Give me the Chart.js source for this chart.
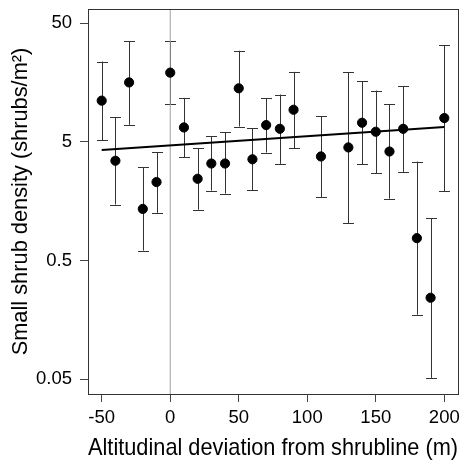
<!DOCTYPE html>
<html>
<head>
<meta charset="utf-8">
<script src="https://cdn.jsdelivr.net/npm/chart.js@4"></script>
<style>
  html, body { margin: 0; padding: 0; background: #fff; }
  #wrap { width: 467px; height: 461px; }
</style>
</head>
<body>
<div id="wrap"><canvas id="c" width="467" height="461"></canvas></div>
<script>
// ---- data ----
const altitudes = [-50, -40, -30, -20, -10, 0, 10, 20, 30, 40, 50, 60, 70, 80, 90, 110, 130, 140, 150, 160, 170, 180, 190, 200];
const density   = [11.1, 3.46, 15.8, 1.36, 2.29, 19.1, 6.60, 2.44, 3.28, 3.28, 14.1, 3.56, 6.91, 6.43, 9.30, 3.76, 4.48, 7.23, 6.07, 4.14, 6.43, 0.772, 0.243, 7.92];
const upperCI   = [23.7, 8.07, 35.0, 3.04, 4.09, 35.0, 11.7, 4.42, 5.54, 5.99, 29.2, 6.47, 11.6, 12.5, 19.4, 8.23, 19.2, 16.2, 13.5, 10.3, 14.6, 3.41, 1.14, 32.4];
const lowerCI   = [5.17, 1.48, 6.95, 0.607, 1.26, 10.3, 3.72, 1.34, 1.94, 1.83, 6.72, 1.96, 4.06, 3.26, 4.39, 1.70, 1.03, 3.22, 2.72, 1.66, 2.79, 0.175, 0.0514, 1.91];
const fitX = [-50, 200];
const fitY = [4.26, 6.65];
const xTicks = [-50, 0, 50, 100, 150, 200];
const yTicks = [0.05, 0.5, 5, 50];
const xRange = [-60, 210];
const yRange = [0.0376, 65.6];

const FONT = "'Liberation Sans', Arial, Helvetica, sans-serif";

const points = altitudes.map((x, i) => ({ x: x, y: density[i] }));
const fitLine = fitX.map((x, i) => ({ x: x, y: fitY[i] }));
const zeroLine = [{ x: 0, y: yRange[0] }, { x: 0, y: yRange[1] }];

const errorBars = {
  id: 'errorBars',
  beforeDatasetsDraw(chart) {
    const { ctx, scales: { x, y } } = chart;
    ctx.save();
    ctx.strokeStyle = '#333';
    ctx.lineWidth = 1;
    const cap = 5.5;
    altitudes.forEach((a, i) => {
      const px = Math.round(x.getPixelForValue(a)) + 0.5;
      const top = y.getPixelForValue(upperCI[i]);
      const bot = y.getPixelForValue(lowerCI[i]);
      ctx.beginPath();
      ctx.moveTo(px, top); ctx.lineTo(px, bot);
      ctx.moveTo(px - cap, Math.round(top) + 0.5); ctx.lineTo(px + cap, Math.round(top) + 0.5);
      ctx.moveTo(px - cap, Math.round(bot) + 0.5); ctx.lineTo(px + cap, Math.round(bot) + 0.5);
      ctx.stroke();
    });
    ctx.restore();
  }
};

const frame = {
  id: 'frame',
  afterDatasetsDraw(chart) {
    const { ctx, chartArea: a } = chart;
    ctx.save();
    ctx.strokeStyle = '#333';
    ctx.lineWidth = 1;
    ctx.strokeRect(Math.round(a.left) + 0.5, Math.round(a.top) + 0.5, Math.round(a.right - a.left), Math.round(a.bottom - a.top));
    ctx.restore();
  }
};

function noPad(s) { s.paddingTop = 0; s.paddingBottom = 0; s.paddingLeft = 0; s.paddingRight = 0; }

new Chart(document.getElementById('c'), {
  type: 'scatter',
  data: {
    datasets: [
      {
        type: 'line', data: zeroLine, borderColor: '#a0a0a0', borderWidth: 1,
        pointRadius: 0, fill: false, order: 3
      },
      {
        type: 'line', data: fitLine, borderColor: '#000', borderWidth: 2,
        pointRadius: 0, fill: false, order: 2
      },
      {
        data: points, backgroundColor: '#000', borderColor: '#000',
        pointRadius: 4.6, pointHoverRadius: 4.6, order: 1
      }
    ]
  },
  options: {
    responsive: false,
    animation: false,
    devicePixelRatio: 1,
    layout: { autoPadding: false, padding: { top: 9, right: 9, left: 0, bottom: 0 } },
    plugins: { legend: { display: false }, tooltip: { enabled: false } },
    scales: {
      x: {
        type: 'linear',
        min: xRange[0], max: xRange[1],
        afterBuildTicks(s) { s.ticks = xTicks.map(v => ({ value: v })); },
        afterFit(s) { s.height = 67; noPad(s); },
        grid: { drawOnChartArea: false, drawTicks: true, tickLength: 8, color: '#444', tickColor: '#444' },
        border: { display: false },
        ticks: { color: '#000', font: { family: FONT, size: 18.5 }, padding: 5, maxRotation: 0, autoSkip: false,
                 callback: v => String(v) },
        title: { display: true, text: 'Altitudinal deviation from shrubline (m)', color: '#000',
                 font: { family: FONT, size: 23.2 }, padding: { top: 0, bottom: -2 } }
      },
      y: {
        type: 'logarithmic',
        min: yRange[0], max: yRange[1],
        afterBuildTicks(s) { s.ticks = yTicks.map(v => ({ value: v })); },
        afterFit(s) { s.width = 88; noPad(s); },
        grid: { drawOnChartArea: false, drawTicks: true, tickLength: 8, color: '#444', tickColor: '#444' },
        border: { display: false },
        ticks: { color: '#000', font: { family: FONT, size: 18.5 }, padding: 8, autoSkip: false,
                 callback: v => String(v) },
        title: { display: true, text: 'Small shrub density (shrubs/m²)', color: '#000',
                 font: { family: FONT, size: 21.8 }, padding: { top: 8, bottom: 0 } }
      }
    }
  },
  plugins: [errorBars, frame]
});
</script>
</body>
</html>
